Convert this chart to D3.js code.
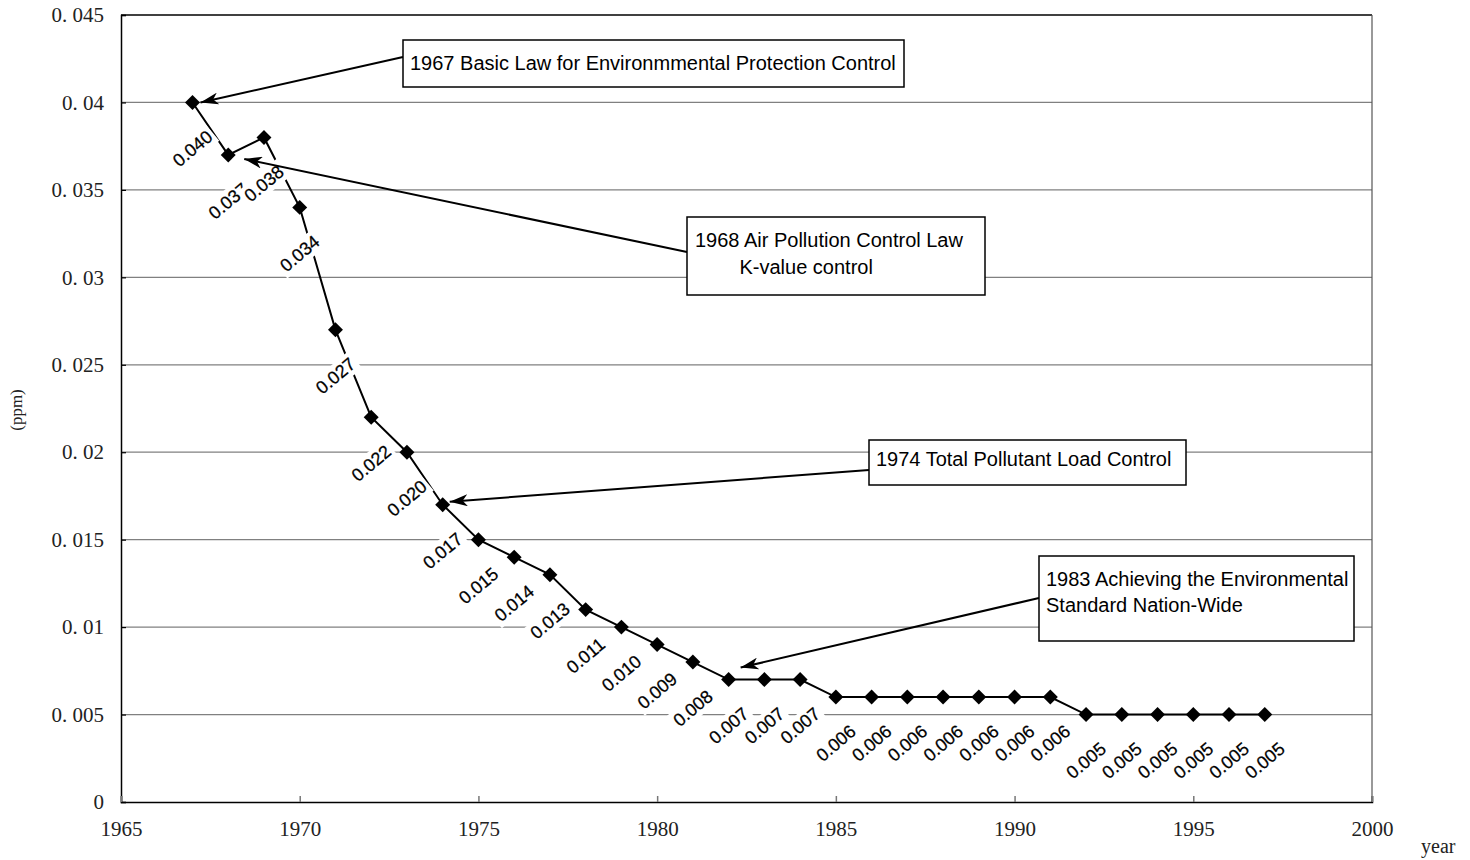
<!DOCTYPE html>
<html>
<head>
<meta charset="utf-8">
<script src="https://cdn.jsdelivr.net/npm/d3@7/dist/d3.min.js"></script>
<style>
  html, body { margin: 0; padding: 0; background: #fff; }
  svg { display: block; }
</style>
</head>
<body>
<svg id="chart" width="1470" height="860"></svg>
<script>
// ---- data ----
const years = [1967, 1968, 1969, 1970, 1971, 1972, 1973, 1974, 1975, 1976, 1977, 1978, 1979, 1980, 1981,
               1982, 1983, 1984, 1985, 1986, 1987, 1988, 1989, 1990, 1991, 1992, 1993, 1994, 1995, 1996, 1997];
const values = [0.040, 0.037, 0.038, 0.034, 0.027, 0.022, 0.020, 0.017, 0.015, 0.014, 0.013, 0.011, 0.010, 0.009, 0.008,
                0.007, 0.007, 0.007, 0.006, 0.006, 0.006, 0.006, 0.006, 0.006, 0.006, 0.005, 0.005, 0.005, 0.005, 0.005, 0.005];
const xTickValues = [1965, 1970, 1975, 1980, 1985, 1990, 1995, 2000];
const yTickValues = [0, 0.005, 0.01, 0.015, 0.02, 0.025, 0.03, 0.035, 0.04, 0.045];
const yTickLabels = ["0", "0. 005", "0. 01", "0. 015", "0. 02", "0. 025", "0. 03", "0. 035", "0. 04", "0. 045"];
const annotationTexts = [
  ["1967 Basic Law for Environmmental Protection Control"],
  ["1968 Air Pollution Control Law", "        K-value control"],
  ["1974 Total Pollutant Load Control"],
  ["1983 Achieving the Environmental", "Standard Nation-Wide"]
];
const annotationYears = [1967, 1968, 1974, 1982];
const yAxisTitle = "(ppm)";
const xAxisTitle = "year";

// ---- layout ----
const svg = d3.select("#chart");
const L = 121, R = 1372, T = 15, B = 802;
const x = d3.scaleLinear().domain([1965, 2000]).range([L, R]);
const y = d3.scaleLinear().domain([0, 0.045]).range([B, T]);
const serif = "'Liberation Serif', 'DejaVu Serif', serif";
const sans = "'Liberation Sans', Arial, sans-serif";

// gridlines
svg.append("g").selectAll("line")
  .data(yTickValues.filter(v => v > 0 && v < 0.045))
  .join("line")
  .attr("x1", L).attr("x2", R)
  .attr("y1", d => y(d)).attr("y2", d => y(d))
  .attr("stroke", "#808080").attr("stroke-width", 1.2);

// frame top / right
svg.append("line").attr("x1", L).attr("x2", R).attr("y1", y(0.045)).attr("y2", y(0.045))
  .attr("stroke", "#000").attr("stroke-width", 1.5);
svg.append("line").attr("x1", R).attr("x2", R).attr("y1", T).attr("y2", B)
  .attr("stroke", "#555").attr("stroke-width", 1.2);

// axes
const yAxis = d3.axisLeft(y).tickValues(yTickValues)
  .tickFormat((d, i) => yTickLabels[i]).tickSize(-5).tickPadding(17);
const gy = svg.append("g").attr("transform", `translate(${L},0)`).call(yAxis);
gy.select(".domain").attr("stroke", "#000").attr("stroke-width", 1.5);
gy.selectAll(".tick line").attr("stroke", "#000").attr("stroke-width", 1.2);
gy.selectAll(".tick text").attr("font-family", serif).attr("font-size", 21).attr("fill", "#222");

const xAxis = d3.axisBottom(x).tickValues(xTickValues).tickFormat(d3.format("d"))
  .tickSize(-6).tickPadding(19);
const gx = svg.append("g").attr("transform", `translate(0,${B})`).call(xAxis);
gx.select(".domain").attr("stroke", "#000").attr("stroke-width", 1.5);
gx.selectAll(".tick line").attr("stroke", "#777").attr("stroke-width", 1.5);
gx.selectAll(".tick text").attr("font-family", serif).attr("font-size", 21).attr("fill", "#222");

// axis titles
svg.append("text").attr("transform", "translate(22,410) rotate(-90)")
  .attr("text-anchor", "middle").attr("font-family", serif).attr("font-size", 17).attr("fill", "#222")
  .text(yAxisTitle);
svg.append("text").attr("x", 1421).attr("y", 853)
  .attr("font-family", serif).attr("font-size", 20).attr("fill", "#222").text(xAxisTitle);

// series
const pts = years.map((yr, i) => ({ yr, v: values[i] }));
svg.append("path").datum(pts)
  .attr("d", d3.line().x(d => x(d.yr)).y(d => y(d.v)))
  .attr("fill", "none").attr("stroke", "#000").attr("stroke-width", 2);

svg.append("g").selectAll("path").data(pts).join("path")
  .attr("d", d3.symbol(d3.symbolSquare, 112))
  .attr("transform", d => `translate(${x(d.yr)},${y(d.v)}) rotate(45)`)
  .attr("fill", "#000");

// data labels
const fmt = d3.format(".3f");
const lg = svg.append("g");
pts.forEach(d => {
  const g = lg.append("g")
    .attr("transform", `translate(${x(d.yr)},${y(d.v) + 46}) rotate(-40)`);
  const t = g.append("text").attr("text-anchor", "middle").attr("dy", "0.35em")
    .attr("font-family", sans).attr("font-size", 18).attr("fill", "#000")
    .attr("stroke", "#000").attr("stroke-width", 0.25)
    .text(fmt(d.v));
  const bb = t.node().getBBox();
  g.insert("rect", "text")
    .attr("x", bb.x - 3).attr("y", bb.y - 1)
    .attr("width", bb.width + 6).attr("height", bb.height + 2)
    .attr("fill", "#fff");
});

// annotations
const boxes = [
  { x: 403, y: 40, w: 501, h: 47, tx: 410, ty: [70], from: [403, 57], off: [8, 0] },
  { x: 687, y: 217, w: 298, h: 78, tx: 695, ty: [247, 274], from: [687, 252], off: [16, 4] },
  { x: 869, y: 440, w: 317, h: 45, tx: 876, ty: [466], from: [869, 470], off: [7, -3] },
  { x: 1039, y: 556, w: 315, h: 85, tx: 1046, ty: [586, 612], from: [1039, 598], off: [12, -12] }
];
const defs = svg.append("defs");
defs.append("marker").attr("id", "arr")
  .attr("viewBox", "0 0 18 12").attr("refX", 0).attr("refY", 6)
  .attr("markerWidth", 18).attr("markerHeight", 12)
  .attr("markerUnits", "userSpaceOnUse").attr("orient", "auto")
  .append("path").attr("d", "M0,6 L18,0 L13,6 L18,12 Z").attr("fill", "#000");

const ag = svg.append("g");
annotationTexts.forEach((lines, i) => {
  const b = boxes[i];
  const i0 = years.indexOf(annotationYears[i]);
  const tipX = x(years[i0]) + b.off[0], tipY = y(values[i0]) + b.off[1];
  ag.append("line")
    .attr("x1", tipX).attr("y1", tipY).attr("x2", b.from[0]).attr("y2", b.from[1])
    .attr("stroke", "#000").attr("stroke-width", 2)
    .attr("marker-start", "url(#arr)");
  ag.append("rect").attr("x", b.x).attr("y", b.y).attr("width", b.w).attr("height", b.h)
    .attr("fill", "#fff").attr("stroke", "#000").attr("stroke-width", 1.5);
  lines.forEach((ln, k) => {
    ag.append("text").attr("x", b.tx).attr("y", b.ty[k])
      .attr("font-family", sans).attr("font-size", 20).attr("fill", "#000")
      .attr("xml:space", "preserve").style("white-space", "pre")
      .text(ln);
  });
});
</script>
</body>
</html>
